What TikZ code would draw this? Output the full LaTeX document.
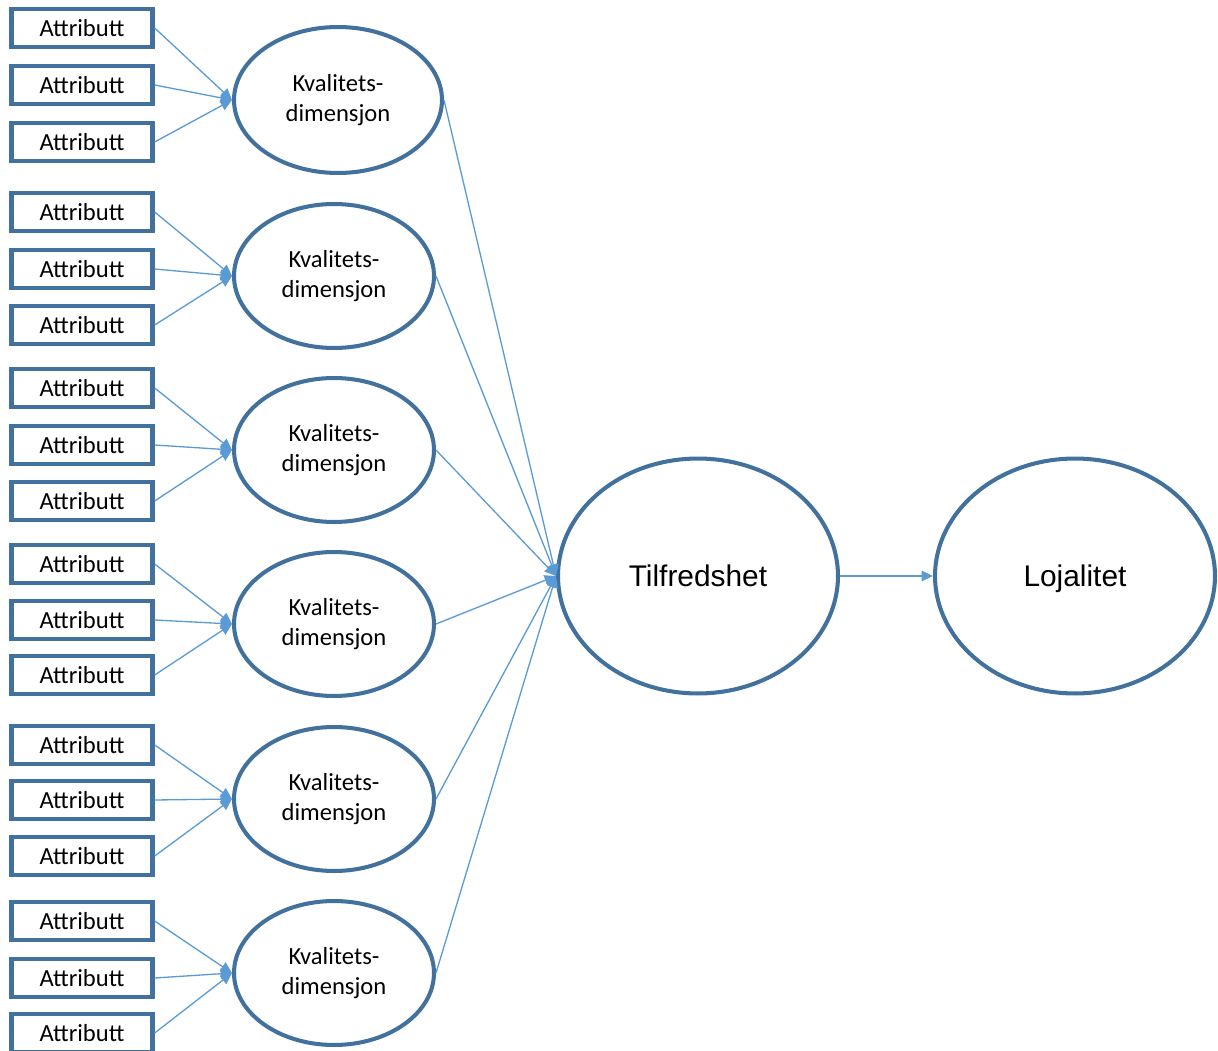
\documentclass[tikz,border=0pt]{standalone}
\usepackage{fontspec}
\setmainfont{Carlito}
\newfontfamily\arialfont{Liberation Sans}
\usetikzlibrary{shapes.geometric,arrows.meta}
\definecolor{rimblue}{RGB}{65,113,156}
\definecolor{linkblue}{RGB}{91,155,213}

\begin{document}
\begin{tikzpicture}[x=0.02cm,y=-0.02cm,
    attr/.style={draw=rimblue,line width=2.5pt,minimum width=2.82cm,minimum height=0.76cm,inner sep=0pt,font=\fontsize{14}{17}\selectfont},
    dim/.style={ellipse,draw=rimblue,line width=2.3pt,minimum width=4cm,minimum height=2.88cm,inner sep=0pt,align=center,font=\fontsize{14}{17}\selectfont},
    big/.style={ellipse,draw=rimblue,line width=2.3pt,minimum width=5.6cm,minimum height=4.7cm,inner sep=0pt,text depth=0pt,font=\arialfont\fontsize{17}{20}\selectfont},
    link/.style={draw=linkblue,line width=0.75pt,-{Triangle[length=6.5pt,width=6pt]}}]
          \useasboundingbox (0,0) rectangle (1218,1051);

          % attributes
          \node[attr] (a11) at (82,28)   {Attributt};
          \node[attr] (a12) at (82,85)   {Attributt};
          \node[attr] (a13) at (82,142)  {Attributt};
          \node[attr] (a21) at (82,212)  {Attributt};
          \node[attr] (a22) at (82,269)  {Attributt};
          \node[attr] (a23) at (82,325)  {Attributt};
          \node[attr] (a31) at (82,388)  {Attributt};
          \node[attr] (a32) at (82,445)  {Attributt};
          \node[attr] (a33) at (82,501)  {Attributt};
          \node[attr] (a41) at (82,564)  {Attributt};
          \node[attr] (a42) at (82,620)  {Attributt};
          \node[attr] (a43) at (82,675)  {Attributt};
          \node[attr] (a51) at (82,745)  {Attributt};
          \node[attr] (a52) at (82,800)  {Attributt};
          \node[attr] (a53) at (82,856)  {Attributt};
          \node[attr] (a61) at (82,921)  {Attributt};
          \node[attr] (a62) at (82,978)  {Attributt};
          \node[attr] (a63) at (82,1033) {Attributt};

          % quality dimensions
          \node[dim,minimum width=4.16cm,minimum height=2.92cm] (k1) at (338,100) {Kvalitets-\\dimensjon};
          \node[dim] (k2) at (334,276) {Kvalitets-\\dimensjon};
          \node[dim] (k3) at (334,450) {Kvalitets-\\dimensjon};
          \node[dim] (k4) at (334,624) {Kvalitets-\\dimensjon};
          \node[dim] (k5) at (334,799) {Kvalitets-\\dimensjon};
          \node[dim] (k6) at (334,973) {Kvalitets-\\dimensjon};

          \node[big] (tilf) at (698,576)  {Tilfredshet};
          \node[big] (loj)  at (1075,576) {Lojalitet};

          \draw[link] (a11.east) -- (k1.west);
          \draw[link] (a12.east) -- (k1.west);
          \draw[link] (a13.east) -- (k1.west);
          \draw[link] (a21.east) -- (k2.west);
          \draw[link] (a22.east) -- (k2.west);
          \draw[link] (a23.east) -- (k2.west);
          \draw[link] (a31.east) -- (k3.west);
          \draw[link] (a32.east) -- (k3.west);
          \draw[link] (a33.east) -- (k3.west);
          \draw[link] (a41.east) -- (k4.west);
          \draw[link] (a42.east) -- (k4.west);
          \draw[link] (a43.east) -- (k4.west);
          \draw[link] (a51.east) -- (k5.west);
          \draw[link] (a52.east) -- (k5.west);
          \draw[link] (a53.east) -- (k5.west);
          \draw[link] (a61.east) -- (k6.west);
          \draw[link] (a62.east) -- (k6.west);
          \draw[link] (a63.east) -- (k6.west);

          \draw[link] (k1.east) -- (tilf.west);
          \draw[link] (k2.east) -- (tilf.west);
          \draw[link] (k3.east) -- (tilf.west);
          \draw[link] (k4.east) -- (tilf.west);
          \draw[link] (k5.east) -- (tilf.west);
          \draw[link] (k6.east) -- (tilf.west);

          \draw[link] (tilf.east) -- (loj.west);
\end{tikzpicture}
\end{document}
